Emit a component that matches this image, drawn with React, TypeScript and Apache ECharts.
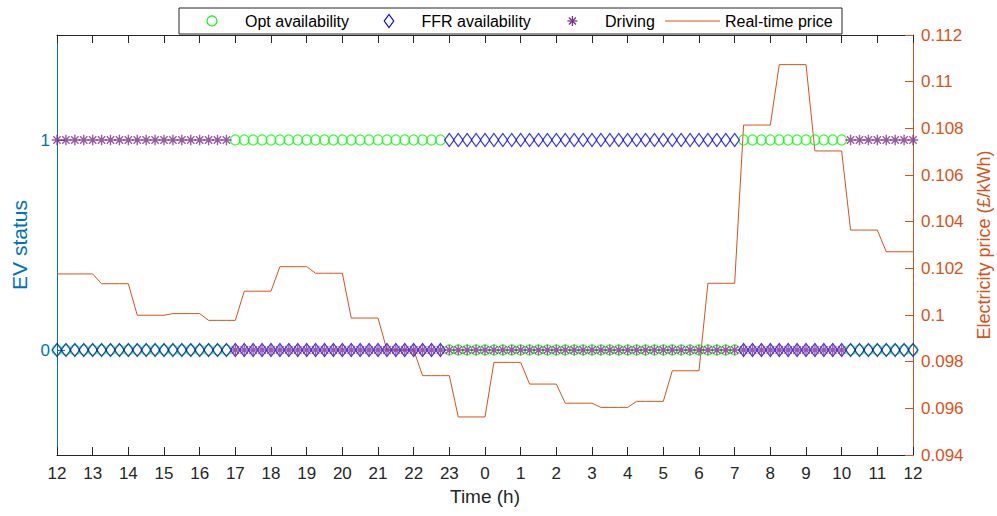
import React, { useEffect, useRef } from "react";
import * as echarts from "echarts";

// ---------- data ----------
const hourLabels = ["12","13","14","15","16","17","18","19","20","21","22","23","0","1","2","3","4","5","6","7","8","9","10","11","12"];

// hourly real-time price (£/kWh), 12:00 -> 12:00 next day
const hourlyPrice = [
  0.10176, 0.10134, 0.09999, 0.10006, 0.09977, 0.10102, 0.10207, 0.10179,
  0.09987, 0.0985, 0.0974, 0.09563, 0.09797, 0.09704, 0.09622, 0.09604,
  0.0963, 0.09761, 0.10136, 0.10814, 0.11073, 0.10703, 0.10364, 0.10271,
];

// 15-minute status slots (97 points, 12:00 -> 12:00)
const optAvailability = [
  0,0,0,0,0,0,0,0,0,0,0,0,0,0,0,0,0,0,0,0,
  1,1,1,1,1,1,1,1,1,1,1,1,1,1,1,1,1,1,1,1,1,1,1,1,
  0,0,0,0,0,0,0,0,0,0,0,0,0,0,0,0,0,0,0,0,0,0,0,0,0,0,0,0,0,0,0,0,0,
  1,1,1,1,1,1,1,1,1,1,1,1,
  0,0,0,0,0,0,0,0,
];
const ffrAvailability = [
  0,0,0,0,0,0,0,0,0,0,0,0,0,0,0,0,0,0,0,0,
  0,0,0,0,0,0,0,0,0,0,0,0,0,0,0,0,0,0,0,0,0,0,0,0,
  1,1,1,1,1,1,1,1,1,1,1,1,1,1,1,1,1,1,1,1,1,1,1,1,1,1,1,1,1,1,1,1,1,
  0,0,0,0,0,0,0,0,0,0,0,0,
  0,0,0,0,0,0,0,0,
];
const driving = [
  1,1,1,1,1,1,1,1,1,1,1,1,1,1,1,1,1,1,1,1,
  0,0,0,0,0,0,0,0,0,0,0,0,0,0,0,0,0,0,0,0,0,0,0,0,
  0,0,0,0,0,0,0,0,0,0,0,0,0,0,0,0,0,0,0,0,0,0,0,0,0,0,0,0,0,0,0,0,0,
  0,0,0,0,0,0,0,0,0,0,0,0,
  1,1,1,1,1,1,1,1,
];

const slotsPerHour = 4;

// ---------- styles ----------
const FONT = "'Liberation Sans', Arial, Helvetica, sans-serif";
const C_GREEN = "#00FF00";
const C_BLUE = "#0000FF";
const C_PURPLE = "#7E2F8E";
const C_ORANGE = "#D95319";
const C_LEFT = "#0072BD";
const C_AXIS = "#262626";
const STAR = "path://M5,0L5,10M0,5L10,5M1.5,1.5L8.5,8.5M8.5,1.5L1.5,8.5";

export default function App() {
  const ref = useRef<HTMLDivElement>(null);

  useEffect(() => {
    if (!ref.current) return;
    const chart = echarts.init(ref.current, null, { renderer: "svg" });

    const toPoints = (arr: number[]) => arr.map((v, i) => [i / slotsPerHour, v]);
    const pricePoints: number[][] = [[0, hourlyPrice[0]]];
    hourlyPrice.forEach((p, k) => {
      for (let j = 1; j <= slotsPerHour; j++) pricePoints.push([k + j / slotsPerHour, p]);
    });

    const hollow = (c: string, w = 1.1) => ({ color: "rgba(0,0,0,0)", borderColor: c, borderWidth: w });

    const ly = 21;
    const legendText = (x: number, text: string) => ({
      type: "text", x, y: ly,
      style: { text, font: `16px ${FONT}`, fill: "#000", verticalAlign: "middle", align: "left" },
    });
    const sx = 572.4;
    const sr = 5;
    const sd = 3.5;

    chart.setOption({
      animation: false,
      grid: { left: 57, right: 84, top: 35, bottom: 61, containLabel: false, outerBoundsMode: "none" },
      xAxis: [
        {
          type: "value", min: 0, max: 24, interval: 1, position: "bottom",
          axisLine: { show: true, onZero: false, lineStyle: { color: C_AXIS, width: 1 } },
          axisTick: { show: true, inside: true, length: 8, lineStyle: { color: C_AXIS } },
          axisLabel: {
            formatter: (v: number) => hourLabels[Math.round(v)] ?? "",
            color: C_AXIS, fontSize: 17, fontFamily: FONT, margin: 10,
          },
          splitLine: { show: false },
          name: "Time (h)", nameLocation: "middle", nameGap: 31,
          nameTextStyle: { color: C_AXIS, fontSize: 19, fontFamily: FONT },
        },
        {
          type: "value", min: 0, max: 24, interval: 1, position: "top",
          axisLine: { show: true, onZero: false, lineStyle: { color: C_AXIS, width: 1 } },
          axisTick: { show: true, inside: true, length: 8, lineStyle: { color: C_AXIS } },
          axisLabel: { show: false },
          splitLine: { show: false },
        },
      ],
      yAxis: [
        {
          type: "value", min: -0.5, max: 1.5, interval: 0.5, position: "left",
          axisLine: { show: true, onZero: false, lineStyle: { color: C_LEFT, width: 1 } },
          axisTick: { show: true, inside: true, length: 8, customValues: [0, 1], lineStyle: { color: C_LEFT } },
          axisLabel: { customValues: [0, 1], color: C_LEFT, fontSize: 17, fontFamily: FONT, margin: 7 },
          splitLine: { show: false },
          name: "EV status", nameLocation: "middle", nameGap: 27,
          nameTextStyle: { color: C_LEFT, fontSize: 21, fontFamily: FONT },
        },
        {
          type: "value", min: 0.094, max: 0.112, interval: 0.002, position: "right",
          axisLine: { show: true, onZero: false, lineStyle: { color: C_ORANGE, width: 1 } },
          axisTick: { show: true, inside: true, length: 8, lineStyle: { color: C_ORANGE } },
          axisLabel: {
            formatter: (v: number) => String(parseFloat(v.toFixed(3))),
            color: C_ORANGE, fontSize: 17, fontFamily: FONT, margin: 8,
          },
          splitLine: { show: false },
          name: "Electricity price (£/kWh)", nameLocation: "middle", nameGap: 62,
          nameTextStyle: { color: C_ORANGE, fontSize: 18, fontFamily: FONT },
        },
      ],
      series: [
        {
          name: "Real-time price", type: "line", xAxisIndex: 0, yAxisIndex: 1,
          data: pricePoints, showSymbol: false, symbol: "none",
          lineStyle: { color: C_ORANGE, width: 1 }, silent: true, z: 1,
        },
        {
          name: "Opt availability", type: "scatter", xAxisIndex: 0, yAxisIndex: 0,
          data: toPoints(optAvailability), symbol: "circle", symbolSize: 10,
          itemStyle: hollow(C_GREEN, 1.2), silent: true, clip: false, z: 2,
        },
        {
          name: "FFR availability", type: "scatter", xAxisIndex: 0, yAxisIndex: 0,
          data: toPoints(ffrAvailability), symbol: "diamond", symbolSize: [9.5, 13],
          itemStyle: hollow(C_BLUE, 1.2), silent: true, clip: false, z: 3,
        },
        {
          name: "Driving", type: "scatter", xAxisIndex: 0, yAxisIndex: 0,
          data: toPoints(driving), symbol: STAR, symbolSize: 10.5,
          itemStyle: hollow(C_PURPLE, 1.4), silent: true, clip: false, z: 4,
        },
      ],
      graphic: [
        {
          type: "rect", shape: { x: 179, y: 8, width: 663, height: 26 },
          style: { fill: "#fff", stroke: "#262626", lineWidth: 1 }, z: 10,
        },
        { type: "circle", shape: { cx: 212, cy: ly, r: 5 }, style: { fill: "none", stroke: C_GREEN, lineWidth: 1.2 }, z: 11 },
        { ...legendText(245, "Opt availability"), z: 11 },
        {
          type: "polygon",
          shape: { points: [[389, ly - 6.5], [393.75, ly], [389, ly + 6.5], [384.25, ly]] },
          style: { fill: "none", stroke: C_BLUE, lineWidth: 1.2 }, z: 11,
        },
        { ...legendText(421.5, "FFR availability"), z: 11 },
        { type: "line", shape: { x1: sx - sr, y1: ly, x2: sx + sr, y2: ly }, style: { stroke: C_PURPLE, lineWidth: 1.3 }, z: 11 },
        { type: "line", shape: { x1: sx, y1: ly - sr, x2: sx, y2: ly + sr }, style: { stroke: C_PURPLE, lineWidth: 1.3 }, z: 11 },
        { type: "line", shape: { x1: sx - sd, y1: ly - sd, x2: sx + sd, y2: ly + sd }, style: { stroke: C_PURPLE, lineWidth: 1.3 }, z: 11 },
        { type: "line", shape: { x1: sx + sd, y1: ly - sd, x2: sx - sd, y2: ly + sd }, style: { stroke: C_PURPLE, lineWidth: 1.3 }, z: 11 },
        { ...legendText(605, "Driving"), z: 11 },
        { type: "line", shape: { x1: 665, y1: ly, x2: 720, y2: ly }, style: { stroke: C_ORANGE, lineWidth: 1 }, z: 11 },
        { ...legendText(725, "Real-time price"), z: 11 },
      ],
    });

    return () => chart.dispose();
  }, []);

  return <div ref={ref} style={{ position: "absolute", left: 0, top: 0, width: 997, height: 516 }} />;
}
